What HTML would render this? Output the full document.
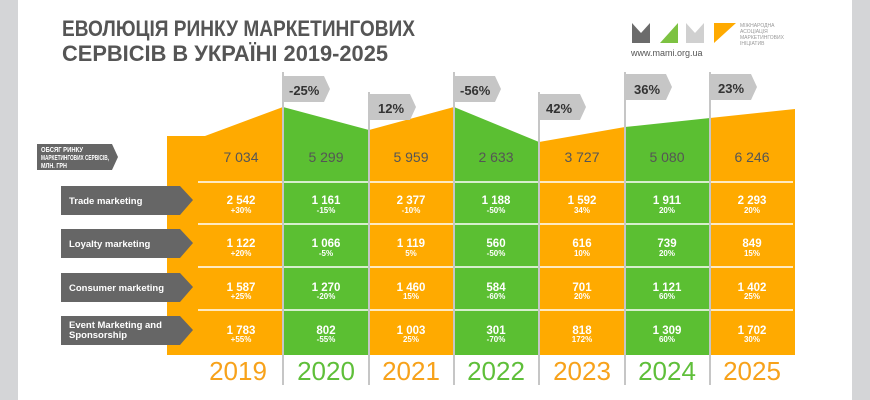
<!DOCTYPE html>
<html><head><meta charset="utf-8"><style>
body{margin:0;background:#fff}
svg{display:block}
text{font-family:"Liberation Sans",sans-serif}
</style></head><body>
<svg width="870" height="400" viewBox="0 0 870 400" xmlns="http://www.w3.org/2000/svg">
<rect x="0" y="0" width="18" height="400" fill="#d4d5d7"/>
<rect x="852" y="0" width="18" height="400" fill="#d4d5d7"/>
<text x="62" y="36" font-size="22" font-weight="bold" fill="#555" textLength="353" lengthAdjust="spacingAndGlyphs">ЕВОЛЮЦІЯ РИНКУ МАРКЕТИНГОВИХ</text>
<text x="62" y="61" font-size="22" font-weight="bold" fill="#555" textLength="326" lengthAdjust="spacingAndGlyphs">СЕРВІСІВ В УКРАЇНІ 2019-2025</text>
<!-- logo -->
<polygon points="632,23 641,33 650,23 650,43 632,43" fill="#6b6b6b"/>
<polygon points="660,43 678,23 678,43" fill="#7dc242"/>
<polygon points="686,23 695,33 704,23 704,43 686,43" fill="#d0d0d0"/>
<polygon points="714,23 736,23 714,43" fill="#ffaa00"/>
<text x="740" y="27" font-size="5" fill="#999">МІЖНАРОДНА</text>
<text x="740" y="33" font-size="5" fill="#999">АСОЦІАЦІЯ</text>
<text x="740" y="39" font-size="5" fill="#999">МАРКЕТИНГОВИХ</text>
<text x="740" y="45" font-size="5" fill="#999">ІНІЦІАТИВ</text>
<text x="631" y="56" font-size="9" fill="#555">www.mami.org.ua</text>
<!-- columns -->
<polygon points="167,136 205,136 283,107 283,355 167,355" fill="#ffaa00"/>
<polygon points="283,107 369,130 369,355 283,355" fill="#5bbf32"/>
<polygon points="369,130 454,107 454,355 369,355" fill="#ffaa00"/>
<polygon points="454,107 539,142 539,355 454,355" fill="#5bbf32"/>
<polygon points="539,142 625,127 625,355 539,355" fill="#ffaa00"/>
<polygon points="625,127 710,118 710,355 625,355" fill="#5bbf32"/>
<polygon points="710,118 795,109 795,355 710,355" fill="#ffaa00"/>
<g stroke="#fff" stroke-width="1.5">
<line x1="198" y1="182" x2="793" y2="182"/>
<line x1="198" y1="224" x2="793" y2="224"/>
<line x1="198" y1="267" x2="793" y2="267"/>
<line x1="198" y1="310" x2="793" y2="310"/>
</g>
<!-- poles & flags -->
<g fill="#c6c6c6">
<rect x="282" y="72" width="2" height="313"/>
<rect x="368" y="92" width="2" height="293"/>
<rect x="453" y="72" width="2" height="313"/>
<rect x="538" y="92" width="2" height="293"/>
<rect x="624" y="72" width="2" height="313"/>
<rect x="709" y="72" width="2" height="313"/>
<polygon points="284,76 324,76 330,89 324,102 284,102"/>
<polygon points="370,94 410,94 416,107 410,120 370,120"/>
<polygon points="455,76 495,76 501,89 495,102 455,102"/>
<polygon points="540,94 580,94 586,107 580,120 540,120"/>
<polygon points="626,74 666,74 672,87 666,100 626,100"/>
<polygon points="711,74 751,74 757,87 751,100 711,100"/>
</g>
<g font-size="13" font-weight="bold" fill="#333">
<text x="289" y="95">-25%</text><text x="378" y="113">12%</text>
<text x="460" y="95">-56%</text><text x="546" y="113">42%</text>
<text x="634" y="94">36%</text><text x="718" y="93">23%</text>
</g>
<!-- labels -->
<g fill="#666">
<polygon points="37,144 112,144 118,157 112,170 37,170"/>
<polygon points="61,186 180,186 193,200 180,215 61,215"/>
<polygon points="61,229 180,229 193,243 180,258 61,258"/>
<polygon points="61,273 180,273 193,287 180,302 61,302"/>
<polygon points="61,316 180,316 193,330 180,345 61,345"/>
</g>
<g font-size="7" font-weight="bold" fill="#fff">
<text x="41" y="152" textLength="42" lengthAdjust="spacingAndGlyphs">ОБСЯГ РИНКУ</text><text x="41" y="160" textLength="68" lengthAdjust="spacingAndGlyphs">МАРКЕТИНГОВИХ СЕРВІСІВ,</text><text x="41" y="168" textLength="26" lengthAdjust="spacingAndGlyphs">МЛН. ГРН</text>
</g>
<g font-size="9.5" font-weight="bold" fill="#fff">
<text x="69" y="204">Trade marketing</text>
<text x="69" y="247">Loyalty marketing</text>
<text x="69" y="291">Consumer marketing</text>
<text x="69" y="328">Event Marketing and</text><text x="69" y="338">Sponsorship</text>
</g>
<g font-size="14" fill="#555" text-anchor="middle">
<text x="241" y="162">7 034</text><text x="326" y="162">5 299</text><text x="411" y="162">5 959</text><text x="496" y="162">2 633</text><text x="582" y="162">3 727</text><text x="667" y="162">5 080</text><text x="752" y="162">6 246</text>
</g>
<g fill="#fff" text-anchor="middle">
<g font-size="11.5" font-weight="bold">
<text x="241" y="204">2 542</text><text x="326" y="204">1 161</text><text x="411" y="204">2 377</text><text x="496" y="204">1 188</text><text x="582" y="204">1 592</text><text x="667" y="204">1 911</text><text x="752" y="204">2 293</text>
<text x="241" y="247">1 122</text><text x="326" y="247">1 066</text><text x="411" y="247">1 119</text><text x="496" y="247">560</text><text x="582" y="247">616</text><text x="667" y="247">739</text><text x="752" y="247">849</text>
<text x="241" y="291">1 587</text><text x="326" y="291">1 270</text><text x="411" y="291">1 460</text><text x="496" y="291">584</text><text x="582" y="291">701</text><text x="667" y="291">1 121</text><text x="752" y="291">1 402</text>
<text x="241" y="334">1 783</text><text x="326" y="334">802</text><text x="411" y="334">1 003</text><text x="496" y="334">301</text><text x="582" y="334">818</text><text x="667" y="334">1 309</text><text x="752" y="334">1 702</text>
</g>
<g font-size="8" font-weight="bold">
<text x="241" y="213">+30%</text><text x="326" y="213">-15%</text><text x="411" y="213">-10%</text><text x="496" y="213">-50%</text><text x="582" y="213">34%</text><text x="667" y="213">20%</text><text x="752" y="213">20%</text>
<text x="241" y="256">+20%</text><text x="326" y="256">-5%</text><text x="411" y="256">5%</text><text x="496" y="256">-50%</text><text x="582" y="256">10%</text><text x="667" y="256">20%</text><text x="752" y="256">15%</text>
<text x="241" y="299">+25%</text><text x="326" y="299">-20%</text><text x="411" y="299">15%</text><text x="496" y="299">-60%</text><text x="582" y="299">20%</text><text x="667" y="299">60%</text><text x="752" y="299">25%</text>
<text x="241" y="342">+55%</text><text x="326" y="342">-55%</text><text x="411" y="342">25%</text><text x="496" y="342">-70%</text><text x="582" y="342">172%</text><text x="667" y="342">60%</text><text x="752" y="342">30%</text>
</g>
</g>
<g font-size="26" text-anchor="middle">
<text x="238" y="380" fill="#f7a21b">2019</text><text x="326" y="380" fill="#5fbf3a">2020</text><text x="411" y="380" fill="#f7a21b">2021</text><text x="496" y="380" fill="#5fbf3a">2022</text><text x="582" y="380" fill="#f7a21b">2023</text><text x="667" y="380" fill="#5fbf3a">2024</text><text x="752" y="380" fill="#f7a21b">2025</text>
</g>
</svg>
</body></html>
